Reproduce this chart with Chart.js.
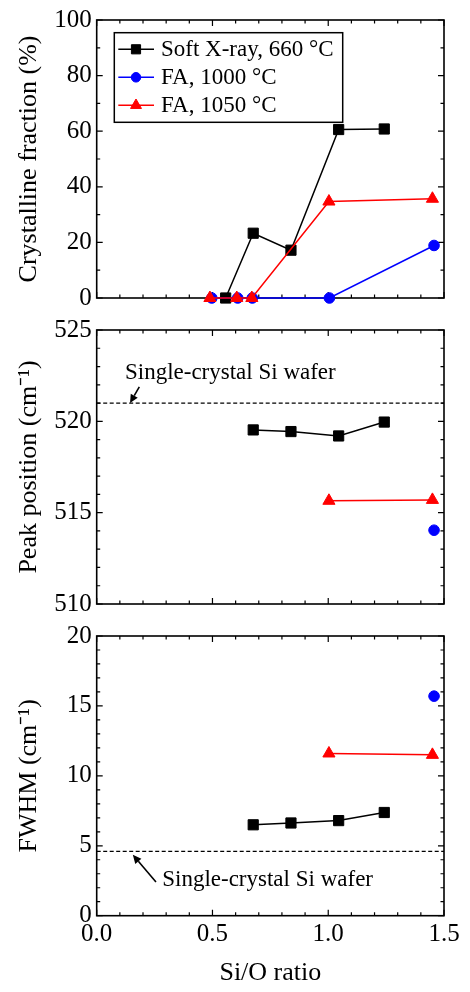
<!DOCTYPE html>
<html lang="en">
<head>
<meta charset="UTF-8">
<title>Crystalline fraction, peak position and FWHM vs Si/O ratio</title>
<script src="https://cdn.jsdelivr.net/npm/chart.js"></script>
<style>
  body { margin: 0; background: #fff; }
  canvas { position: absolute; left: 0; }
</style>
</head>
<body>
<canvas id="frac" width="470" height="318" style="top:0px"></canvas>
<canvas id="peak" width="470" height="314" style="top:310px"></canvas>
<canvas id="fwhm" width="470" height="376" style="top:616px"></canvas>
<script>
// ---- data ----
const xrayRatioFrac   = [0.557, 0.676, 0.839, 1.045, 1.242];
const xrayFrac        = [0, 23.3, 17.2, 60.6, 60.8];
const fa1000RatioFrac = [0.497, 0.609, 0.672, 1.005, 1.457];
const fa1000Frac      = [0, 0, 0, 0, 18.9];
const fa1050RatioFrac = [0.489, 0.605, 0.670, 1.003, 1.450];
const fa1050Frac      = [0, 0, 0, 34.7, 35.7];

const xrayRatio   = [0.676, 0.839, 1.045, 1.242];
const xrayPeak    = [519.53, 519.44, 519.2, 519.96];
const xrayFwhm    = [6.5, 6.63, 6.8, 7.38];
const fa1000Ratio = [1.457];
const fa1000Peak  = [514.04];
const fa1000Fwhm  = [15.7];
const fa1050Ratio = [1.003, 1.450];
const fa1050Peak  = [515.65, 515.7];
const fa1050Fwhm  = [11.6, 11.5];

const waferRatio = [0.0, 1.5];
const waferPeak  = [521.0, 521.0];
const waferFwhm  = [4.6, 4.6];

const seriesLabels = ['Soft X-ray, 660 \u00B0C', 'FA, 1000 \u00B0C', 'FA, 1050 \u00B0C'];
const waferLabel = 'Single-crystal Si wafer';

// ticks
const xTicks    = [0.0, 0.5, 1.0, 1.5];
const fracTicks = [0, 20, 40, 60, 80, 100];
const peakTicks = [510, 515, 520, 525];
const fwhmTicks = [0, 5, 10, 15, 20];

const FONT = "'Liberation Serif', 'Times New Roman', serif";
const pts = (xs, ys) => xs.map((x, i) => ({ x: x, y: ys[i] }));

function series(kind, xs, ys) {
  const styles = {
    xray:   { color: '#000000', pointStyle: 'rect',     radius: 7.2, order: 2, label: seriesLabels[0] },
    fa1000: { color: '#0000ff', pointStyle: 'circle',   radius: 5.3, order: 1, label: seriesLabels[1] },
    fa1050: { color: '#ff0000', pointStyle: 'triangle', radius: 7,   order: 0, label: seriesLabels[2] }
  };
  const s = styles[kind];
  return {
    label: s.label,
    data: pts(xs, ys),
    showLine: true,
    borderColor: s.color,
    backgroundColor: s.color,
    borderWidth: 1.5,
    pointStyle: s.pointStyle,
    pointRadius: s.radius,
    pointBorderWidth: 1,
    pointBorderColor: s.color,
    pointBackgroundColor: s.color,
    order: s.order,
    clip: false
  };
}

function waferLine(xs, ys) {
  return {
    label: '',
    data: pts(xs, ys),
    showLine: true,
    borderColor: '#000',
    borderWidth: 1.2,
    borderDash: [4, 2.5],
    pointRadius: 0,
    order: 3
  };
}

// frame + inward ticks on all four sides
const framePlugin = {
  id: 'frame',
  beforeDatasetsDraw(chart, args, opts) {
    const { ctx, chartArea: a, scales: { x, y } } = chart;
    ctx.save();
    ctx.strokeStyle = '#000';
    ctx.lineWidth = 1.2;
    ctx.beginPath();
    for (let i = 0; i <= 15; i++) {
      const px = x.getPixelForValue(i * 0.1);
      const len = i % 5 === 0 ? 6 : 3.5;
      ctx.moveTo(px, a.bottom); ctx.lineTo(px, a.bottom - len);
      ctx.moveTo(px, a.top); ctx.lineTo(px, a.top + len);
    }
    const n = Math.round((y.max - y.min) / opts.minor);
    const every = Math.round(opts.major / opts.minor);
    for (let i = 0; i <= n; i++) {
      const py = y.getPixelForValue(y.min + i * opts.minor);
      const len = i % every === 0 ? 6 : 3.5;
      ctx.moveTo(a.left, py); ctx.lineTo(a.left + len, py);
      ctx.moveTo(a.right, py); ctx.lineTo(a.right - len, py);
    }
    ctx.stroke();
    ctx.lineWidth = 1.6;
    ctx.strokeRect(a.left, a.top, a.right - a.left, a.bottom - a.top);
    ctx.restore();
  }
};

function drawMarker(ctx, style, x, y, r) {
  ctx.beginPath();
  if (style === 'rect') {
    const s = r * Math.SQRT1_2;
    ctx.rect(x - s, y - s, 2 * s, 2 * s);
  } else if (style === 'triangle') {
    ctx.moveTo(x, y - r);
    ctx.lineTo(x + r * 0.866, y + r / 2);
    ctx.lineTo(x - r * 0.866, y + r / 2);
    ctx.closePath();
  } else {
    ctx.arc(x, y, r, 0, Math.PI * 2);
  }
  ctx.fill();
  ctx.stroke();
}

// boxed legend inside the top panel
const legendPlugin = {
  id: 'boxLegend',
  afterDraw(chart, args, opts) {
    if (!opts.show) return;
    const { ctx, chartArea: a } = chart;
    const bx = a.left + 17.6, by = a.top + 12.7, bw = 228.4, bh = 89.6;
    ctx.save();
    ctx.lineWidth = 1.5;
    ctx.strokeStyle = '#000';
    ctx.strokeRect(bx, by, bw, bh);
    ctx.font = '23px ' + FONT;
    ctx.textBaseline = 'middle';
    ctx.textAlign = 'left';
    let row = 0;
    chart.data.datasets.forEach(ds => {
      if (!ds.label) return;
      const ry = by + 16.6 + row * 28;
      ctx.strokeStyle = ds.borderColor;
      ctx.fillStyle = ds.borderColor;
      ctx.lineWidth = 1.5;
      ctx.beginPath();
      ctx.moveTo(bx + 4, ry); ctx.lineTo(bx + 39.7, ry);
      ctx.stroke();
      ctx.lineWidth = 1;
      drawMarker(ctx, ds.pointStyle, bx + 21.7, ry, ds.pointRadius * 0.9);
      ctx.fillStyle = '#000';
      ctx.fillText(ds.label, bx + 46.7, ry + 1);
      row++;
    });
    ctx.restore();
  }
};

// text + arrow annotations, placed in data coordinates
const notePlugin = {
  id: 'notes',
  afterDatasetsDraw(chart, args, opts) {
    if (!opts.items) return;
    const { ctx, scales: { x, y } } = chart;
    ctx.save();
    opts.items.forEach(it => {
      ctx.font = '23px ' + FONT;
      ctx.fillStyle = '#000';
      ctx.textBaseline = 'middle';
      ctx.textAlign = 'left';
      ctx.fillText(it.text, x.getPixelForValue(it.x), y.getPixelForValue(it.y));
      const x0 = x.getPixelForValue(it.ax0), y0 = y.getPixelForValue(it.ay0);
      const x1 = x.getPixelForValue(it.ax1), y1 = y.getPixelForValue(it.ay1);
      const ang = Math.atan2(y1 - y0, x1 - x0);
      const hl = 8.5, hw = 4;
      const bx = x1 - hl * Math.cos(ang), by = y1 - hl * Math.sin(ang);
      ctx.strokeStyle = '#000';
      ctx.lineWidth = 1.6;
      ctx.beginPath();
      ctx.moveTo(x0, y0); ctx.lineTo(bx, by);
      ctx.stroke();
      ctx.beginPath();
      ctx.moveTo(x1, y1);
      ctx.lineTo(bx + hw * Math.sin(ang), by - hw * Math.cos(ang));
      ctx.lineTo(bx - hw * Math.sin(ang), by + hw * Math.cos(ang));
      ctx.closePath();
      ctx.fill();
    });
    ctx.restore();
  }
};

function yScale(min, max, ticks, title) {
  return {
    type: 'linear',
    min: min,
    max: max,
    afterBuildTicks: s => { s.ticks = ticks.map(v => ({ value: v })); },
    afterFit: s => { s.width = 96.7; },
    ticks: { font: { family: FONT, size: 25 }, color: '#000', padding: 5, callback: v => String(v) },
    grid: { display: false, drawTicks: false },
    border: { display: false },
    title: { display: true, text: title, color: '#000', font: { family: FONT, size: 26 }, padding: { top: 14, bottom: 0 } }
  };
}

function xScale(showLabels, xHeight) {
  return {
    type: 'linear',
    min: 0,
    max: 1.5,
    display: showLabels,
    afterBuildTicks: s => { s.ticks = xTicks.map(v => ({ value: v })); },
    afterFit: s => { s.height = xHeight; },
    ticks: { font: { family: FONT, size: 25 }, color: '#000', padding: 4, maxRotation: 0, autoSkip: false,
             callback: v => Number(v).toFixed(1) },
    grid: { display: false, drawTicks: false },
    border: { display: false },
    title: { display: showLabels, text: 'Si/O ratio', color: '#000', font: { family: FONT, size: 26 }, padding: { top: 0, bottom: 3.4 } }
  };
}

function makeChart(id, datasets, yOpts, xOpts, pad, plugOpts) {
  return new Chart(document.getElementById(id), {
    type: 'scatter',
    data: { datasets: datasets },
    options: {
      responsive: false,
      animation: false,
      events: [],
      layout: { autoPadding: false, padding: pad },
      scales: { x: xOpts, y: yOpts },
      plugins: Object.assign({ legend: { display: false }, tooltip: { enabled: false } }, plugOpts)
    },
    plugins: [framePlugin, legendPlugin, notePlugin]
  });
}

// crystalline fraction
makeChart('frac', [
  series('xray', xrayRatioFrac, xrayFrac),
  series('fa1000', fa1000RatioFrac, fa1000Frac),
  series('fa1050', fa1050RatioFrac, fa1050Frac)
], yScale(0, 100, fracTicks, 'Crystalline fraction (%)'), xScale(false, 0),
  { top: 20, right: 26, bottom: 16.3, left: 0 },
  { frame: { minor: 10, major: 20 }, boxLegend: { show: true } });

// peak position
makeChart('peak', [
  series('xray', xrayRatio, xrayPeak),
  series('fa1000', fa1000Ratio, fa1000Peak),
  series('fa1050', fa1050Ratio, fa1050Peak),
  waferLine(waferRatio, waferPeak)
], yScale(510, 525, peakTicks, 'Peak position (cm\u207B\u00B9)'), xScale(false, 0),
  { top: 16.7, right: 26, bottom: 16.5, left: 0 },
  { frame: { minor: 1, major: 5 },
    notes: { items: [{ text: waferLabel, x: 0.122, y: 522.65, ax0: 0.184, ay0: 521.89, ax1: 0.144, ay1: 521.0 }] } });

// FWHM
makeChart('fwhm', [
  series('xray', xrayRatio, xrayFwhm),
  series('fa1000', fa1000Ratio, fa1000Fwhm),
  series('fa1050', fa1050Ratio, fa1050Fwhm),
  waferLine(waferRatio, waferFwhm)
], yScale(0, 20, fwhmTicks, 'FWHM (cm\u207B\u00B9)'), xScale(true, 76.3),
  { top: 17.3, right: 26, bottom: 0, left: 0 },
  { frame: { minor: 1, major: 5 },
    notes: { items: [{ text: waferLabel, x: 0.283, y: 2.53, ax0: 0.256, ay0: 2.41, ax1: 0.156, ay1: 4.35 }] } });
</script>
</body>
</html>
